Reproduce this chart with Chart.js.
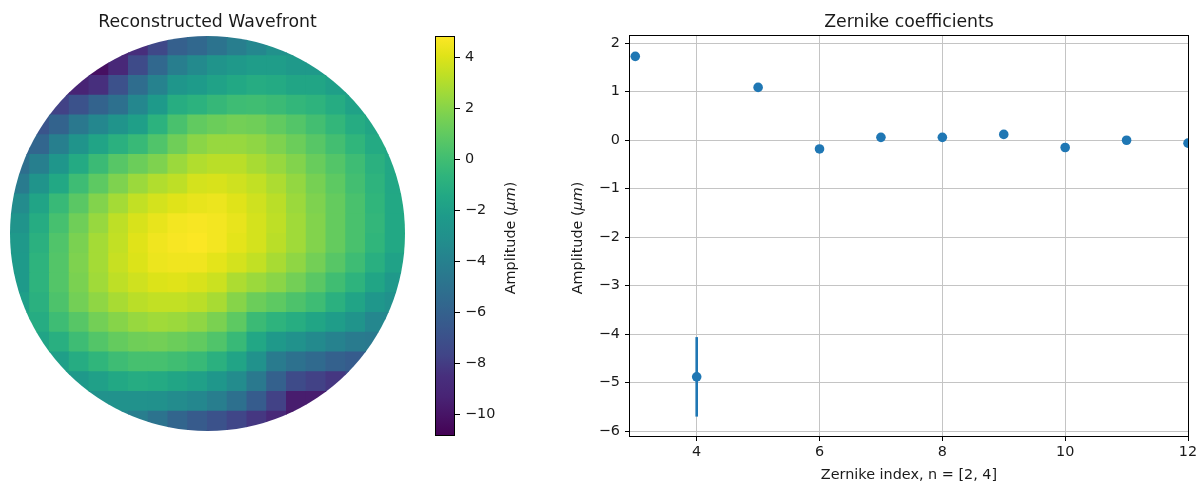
<!DOCTYPE html>
<html><head><meta charset="utf-8">
<script src="https://cdn.jsdelivr.net/npm/chart.js@4.4.1/dist/chart.umd.min.js"></script>
<style>
html,body{margin:0;padding:0;background:#fff;overflow:hidden;width:1196px;height:485px;}
canvas{position:absolute;top:0}
</style></head><body>
<canvas id="wf" width="420" height="485" style="left:0"></canvas>
<canvas id="cb" width="140" height="485" style="left:420px"></canvas>
<canvas id="zk" width="636" height="485" style="left:560px"></canvas>
<script>
// ---------- data ----------
// wavefront cells: centres in normalised pupil coordinates
const gridU = [-0.95,-0.85,-0.75,-0.65,-0.55,-0.45,-0.35,-0.25,-0.15,-0.05,0.05,0.15,0.25,0.35,0.45,0.55,0.65,0.75,0.85,0.95];
const gridV = [0.95,0.85,0.75,0.65,0.55,0.45,0.35,0.25,0.15,0.05,-0.05,-0.15,-0.25,-0.35,-0.45,-0.55,-0.65,-0.75,-0.85,-0.95];
const _ = null;
const wavefront = [
 [_,_,_,_,_,-9.3,-8.6,-7.5,-6.1,-5.6,-4.9,-4.2,-3.6,-3.0,-2.8,_,_,_,_,_],
 [_,_,_,_,-10.2,-9.0,-7.3,-5.6,-4.2,-3.4,-2.8,-2.4,-2.1,-2.1,-2.4,-2.4,_,_,_,_],
 [_,_,-8.6,-9.3,-8.5,-7.0,-5.3,-3.9,-2.6,-2.2,-1.8,-1.4,-1.2,-1.3,-1.6,-1.6,-2.0,-1.9,_,_],
 [_,_,-7.8,-6.9,-5.9,-5.1,-3.6,-2.3,-1.1,-0.8,-0.4,-0.1,0.0,-0.2,-0.5,-0.7,-1.2,-1.8,_,_],
 [_,-6.8,-5.9,-4.6,-3.6,-2.8,-2.0,-0.8,0.3,1.0,1.3,1.5,1.4,1.0,0.6,0.1,-0.5,-1.2,-1.6,_],
 [-5.9,-5.7,-4.1,-2.8,-1.7,-0.9,-0.3,0.5,1.4,2.1,2.4,2.4,2.2,1.8,1.3,0.7,0.1,-0.6,-1.3,-1.5],
 [-5.2,-4.1,-2.6,-1.3,-0.2,0.7,1.3,1.8,2.5,3.0,3.2,3.2,2.8,2.4,1.9,1.2,0.6,-0.1,-0.9,-1.5],
 [-4.4,-2.8,-1.4,-0.1,0.9,1.8,2.5,3.0,3.3,3.8,3.9,3.7,3.4,2.9,2.3,1.6,0.9,0.1,-0.7,-1.5],
 [-3.3,-1.7,-0.3,0.8,1.9,2.7,3.4,3.8,4.1,4.3,4.4,4.1,3.7,3.2,2.5,1.8,1.1,0.3,-0.6,-1.4],
 [-2.8,-1.2,0.2,1.4,2.4,3.3,3.9,4.3,4.6,4.7,4.6,4.3,3.8,3.3,2.6,1.9,1.1,0.3,-0.5,-1.4],
 [-2.4,-0.9,0.5,1.7,2.7,3.4,4.1,4.5,4.7,4.8,4.6,4.2,3.8,3.2,2.6,1.9,1.1,0.3,-0.6,-1.4],
 [-2.3,-0.7,0.6,1.8,2.7,3.5,4.0,4.4,4.5,4.5,4.2,3.8,3.4,2.8,2.2,1.5,0.7,-0.1,-1.0,-1.8],
 [-2.3,-0.7,0.6,1.7,2.6,3.3,3.7,4.0,4.1,3.9,3.6,2.9,2.5,2.1,1.5,0.8,0.0,-0.7,-1.6,-2.4],
 [-2.0,-0.9,0.4,1.5,2.2,2.8,3.2,3.4,3.4,3.2,2.8,2.0,1.3,0.9,0.4,-0.1,-0.9,-1.7,-2.5,-3.0],
 [-1.6,-1.2,-0.1,0.7,1.5,2.0,2.4,2.6,2.5,2.2,1.7,0.9,-0.2,-0.7,-1.1,-1.6,-2.1,-2.8,-3.6,-3.6],
 [_,-1.7,-1.0,-0.1,0.6,1.1,1.4,1.5,1.3,1.0,0.5,-0.3,-1.5,-2.4,-2.9,-3.4,-3.9,-4.4,-4.5,_],
 [_,_,-2.0,-1.2,-0.6,-0.1,0.2,0.2,0.0,-0.3,-0.9,-1.7,-2.9,-4.4,-5.0,-5.5,-6.0,-6.3,_,_],
 [_,_,-2.1,-2.4,-1.9,-1.4,-1.2,-1.3,-1.6,-1.9,-2.5,-3.3,-4.5,-6.0,-7.3,-7.8,-8.2,-7.3,_,_],
 [_,_,_,_,-2.9,-2.9,-2.9,-3.0,-3.3,-3.6,-4.2,-5.1,-6.3,-7.8,-9.6,-9.6,_,_,_,_],
 [_,_,_,_,_,-3.6,-4.2,-4.9,-5.8,-6.4,-6.9,-7.6,-8.2,-9.0,-9.8,_,_,_,_,_]
];
const colorbarRange = [-10.85, 4.85];
const colorbarTicks = [-10,-8,-6,-4,-2,0,2,4];

const zernikeIndex = [3,4,5,6,7,8,9,10,11,12];
const zernikeCoeff = [1.73,-4.88,1.09,-0.18,0.06,0.06,0.12,-0.15,0.00,-0.06];
const zernikeError = [0,0.82,0,0,0,0,0,0,0,0];
const xTicks = [4,6,8,10,12];
const yTicks = [-6,-5,-4,-3,-2,-1,0,1,2];

// ---------- style helpers ----------
const FONT = '"DejaVu Sans", "Liberation Sans", sans-serif';
const TXT = '#1a1a1a';
const BLUE = '#1f77b4';
const VIR=['#440154','#471365','#482475','#472f7d','#414487','#3b528b','#355f8d','#2f6c8e','#2a788e','#25848e','#21918c','#1e9b8a','#22a884','#2fb47c','#44bf70','#5ec962','#7ad151','#9bd93c','#bddf26','#dfe318','#fde725'];
const VIRRGB=VIR.map(h=>[1,3,5].map(k=>parseInt(h.substr(k,2),16)));
function cmap(w){
  let t=(w-colorbarRange[0])/(colorbarRange[1]-colorbarRange[0]);
  t=Math.min(1,Math.max(0,t))*(VIR.length-1);
  const i=Math.min(VIR.length-2,Math.floor(t)),f=t-i,a=VIRRGB[i],b=VIRRGB[i+1];
  return 'rgb('+a.map((c,k)=>Math.round(c+(b[k]-c)*f)).join(',')+')';
}
const minus = v => (v<0?'\u2212':'')+Math.abs(v);
function drawAmpLabel(ctx,x,y){
  ctx.save();ctx.translate(x,y);ctx.rotate(-Math.PI/2);
  const parts=[['Amplitude (',''],['\u03bcm','italic '],[')','']];
  let tot=0;const ws=parts.map(p=>{ctx.font=p[1]+'14.4px '+FONT;const w=ctx.measureText(p[0]).width;tot+=w;return w;});
  let cx=-tot/2;ctx.fillStyle=TXT;ctx.textBaseline='middle';ctx.textAlign='left';
  parts.forEach((p,i)=>{ctx.font=p[1]+'14.4px '+FONT;ctx.fillText(p[0],cx,0);cx+=ws[i];});
  ctx.restore();
}

// ---------- wavefront ----------
const cells=[];
wavefront.forEach((row,j)=>row.forEach((w,i)=>{ if(w!==null) cells.push({x:gridU[i],y:gridV[j],w}); }));
const pupilClip={id:'pupilClip',
 beforeDatasetsDraw(c){const x=c.scales.x,y=c.scales.y,ctx=c.ctx;ctx.save();ctx.beginPath();
   ctx.ellipse(x.getPixelForValue(0),y.getPixelForValue(0),Math.abs(x.getPixelForValue(1)-x.getPixelForValue(0)),Math.abs(y.getPixelForValue(1)-y.getPixelForValue(0)),0,0,Math.PI*2);ctx.clip();},
 afterDatasetsDraw(c){c.ctx.restore();},
 afterDraw(c){const ctx=c.ctx;ctx.save();ctx.font='17.3px '+FONT;ctx.fillStyle=TXT;ctx.textAlign='center';
   ctx.fillText('Reconstructed Wavefront',(c.chartArea.left+c.chartArea.right)/2,27);ctx.restore();}};
new Chart(document.getElementById('wf'),{type:'scatter',
 data:{datasets:[{data:cells.map(c=>({x:c.x,y:c.y})),backgroundColor:cells.map(c=>cmap(c.w)),borderWidth:0,pointStyle:'rect',
   pointRadius:(ctx)=>{const s=ctx.chart.scales.x;return (Math.abs(s.getPixelForValue(0.1)-s.getPixelForValue(0))+1)/Math.SQRT2;}}]},
 options:{responsive:false,devicePixelRatio:1,animation:false,events:[],layout:{padding:{left:10,right:15,top:36,bottom:54}},
  plugins:{legend:{display:false},tooltip:{enabled:false}},
  scales:{x:{type:'linear',min:-1,max:1,display:false},y:{type:'linear',min:-1,max:1,display:false}}},
 plugins:[pupilClip]});

// ---------- colorbar ----------
const cbPlugin={id:'cbPlugin',
 beforeDatasetsDraw(c){const a=c.chartArea,ctx=c.ctx,y=c.scales.y;
   const g=ctx.createLinearGradient(0,y.getPixelForValue(colorbarRange[0]),0,y.getPixelForValue(colorbarRange[1]));
   VIR.forEach((col,i)=>g.addColorStop(i/(VIR.length-1),col));
   ctx.save();ctx.fillStyle=g;ctx.fillRect(a.left,a.top,a.right-a.left,a.bottom-a.top);
   ctx.strokeStyle='#000';ctx.lineWidth=1;ctx.strokeRect(a.left+0.5,a.top+0.5,a.right-a.left-1,a.bottom-a.top-1);ctx.restore();},
 afterDraw(c){drawAmpLabel(c.ctx,91,238);}};
new Chart(document.getElementById('cb'),{type:'scatter',data:{datasets:[{data:[]}]},
 options:{responsive:false,devicePixelRatio:1,animation:false,events:[],layout:{padding:{left:15,right:0,top:36,bottom:49}},
  plugins:{legend:{display:false},tooltip:{enabled:false}},
  scales:{x:{type:'linear',min:0,max:1,display:false},
   y:{type:'linear',position:'right',min:colorbarRange[0],max:colorbarRange[1],
    afterBuildTicks:s=>{s.ticks=colorbarTicks.map(v=>({value:v}));},
    afterFit:s=>{s.width=105;s.paddingTop=0;s.paddingBottom=0;},
    border:{display:false},
    grid:{drawOnChartArea:false,drawTicks:true,tickLength:5,tickColor:'#000',tickWidth:1},
    ticks:{padding:5,color:TXT,font:{family:FONT,size:14.4},callback:v=>minus(v)}}}},
 plugins:[cbPlugin]});

// ---------- Zernike coefficients ----------
const errSets=[];
zernikeIndex.forEach((n,i)=>{ if(zernikeError[i]>0) errSets.push({data:[{x:n,y:zernikeCoeff[i]-zernikeError[i]},{x:n,y:zernikeCoeff[i]+zernikeError[i]}],
  showLine:true,borderColor:BLUE,borderWidth:2.6,pointRadius:0,clip:0}); });
const zkPlugin={id:'zkPlugin',
 afterDraw(c){const a=c.chartArea,ctx=c.ctx;ctx.save();
   ctx.strokeStyle='#000';ctx.lineWidth=1;ctx.strokeRect(Math.round(a.left)-0.5,Math.round(a.top)-0.5,Math.round(a.right-a.left)+1,Math.round(a.bottom-a.top)+1);
   ctx.fillStyle=TXT;ctx.textAlign='center';ctx.font='17.3px '+FONT;
   const cx=(a.left+a.right)/2;ctx.fillText('Zernike coefficients',cx,27);
   ctx.font='14.4px '+FONT;ctx.fillText('Zernike index, n = [2, 4]',cx,479);
   ctx.restore();drawAmpLabel(ctx,18,238);}};
new Chart(document.getElementById('zk'),{type:'scatter',
 data:{datasets:[{data:zernikeIndex.map((n,i)=>({x:n,y:zernikeCoeff[i]})),backgroundColor:BLUE,borderWidth:0,pointRadius:4.8,clip:0}].concat(errSets)},
 options:{responsive:false,devicePixelRatio:1,animation:false,events:[],layout:{padding:{left:0,right:8,top:36,bottom:0}},
  plugins:{legend:{display:false},tooltip:{enabled:false}},
  scales:{
   x:{type:'linear',min:2.914,max:12,
    afterBuildTicks:s=>{s.ticks=xTicks.map(v=>({value:v}));},
    afterFit:s=>{s.height=49;s.paddingLeft=0;s.paddingRight=0;},
    border:{display:false},
    grid:{color:'#c4c4c4',lineWidth:1,drawTicks:true,tickLength:5,tickColor:'#000',tickWidth:1},
    ticks:{padding:3,color:TXT,maxRotation:0,font:{family:FONT,size:14.4},callback:v=>minus(v)}},
   y:{type:'linear',min:-6.1,max:2.15,
    afterBuildTicks:s=>{s.ticks=yTicks.map(v=>({value:v}));},
    afterFit:s=>{s.width=70;s.paddingTop=0;s.paddingBottom=0;},
    border:{display:false},
    grid:{color:'#c4c4c4',lineWidth:1,drawTicks:true,tickLength:5,tickColor:'#000',tickWidth:1},
    ticks:{padding:5,color:TXT,font:{family:FONT,size:14.4},callback:v=>minus(v)}}}},
 plugins:[zkPlugin]});
</script></body></html>
